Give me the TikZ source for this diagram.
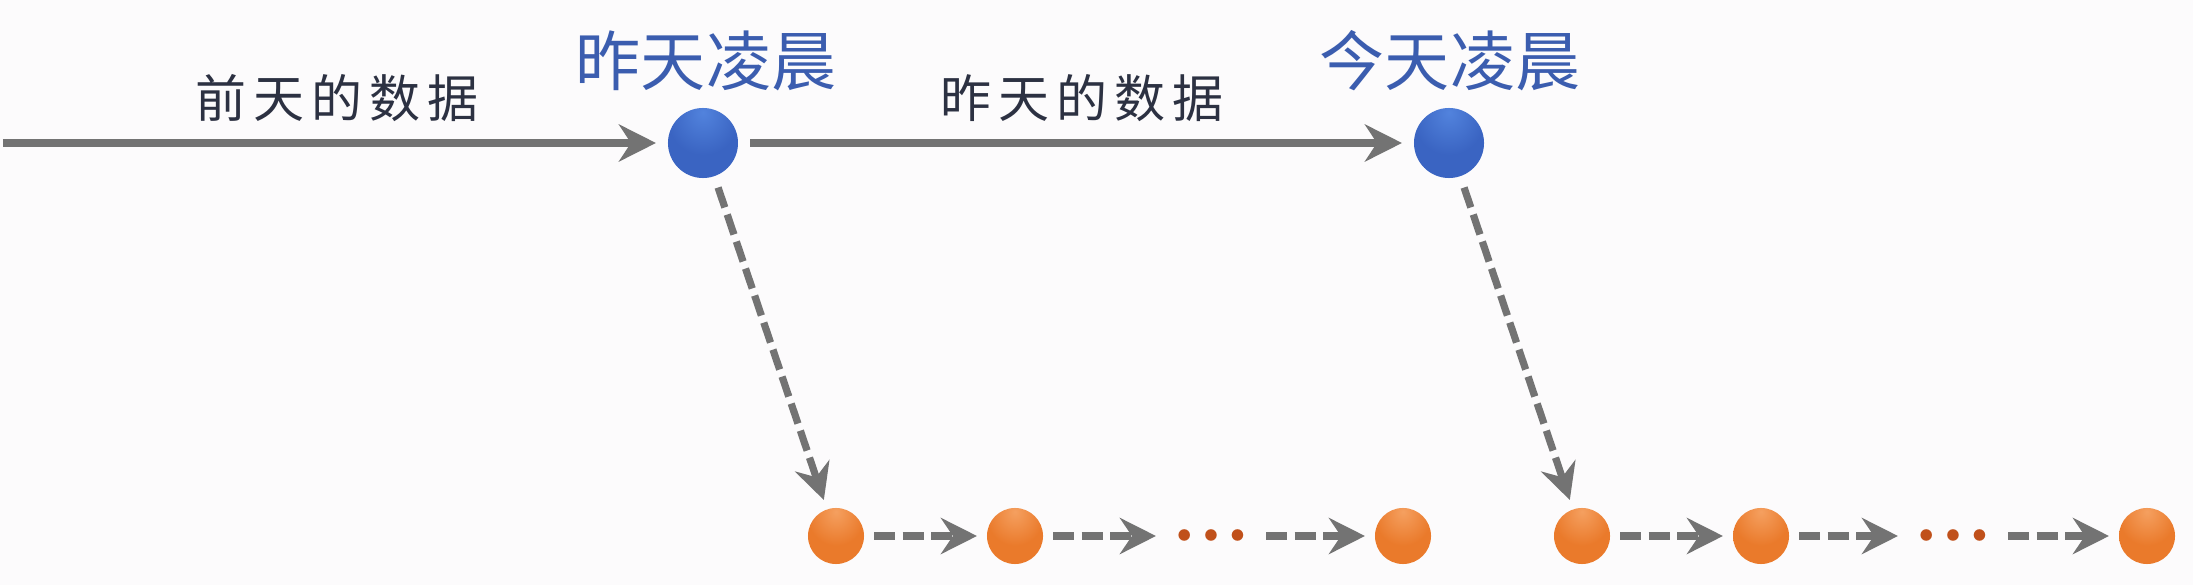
\documentclass[tikz,border=0pt]{standalone}
\usepackage{fontspec}
\newfontfamily\cjk[LetterSpace=14]{Noto Sans CJK SC}
\newfontfamily\cjkday{Noto Sans CJK SC}
\usetikzlibrary{arrows.meta}

% Ball shadings
\definecolor{blueLight}{HTML}{5283DD}
\definecolor{blueMid}{HTML}{3A64C2}
\definecolor{blueDark}{HTML}{2A4C9E}
\definecolor{orangeLight}{HTML}{F5A060}
\definecolor{orangeMid}{HTML}{EA7A2B}
\definecolor{orangeDark}{HTML}{C9601C}
\pgfdeclareradialshading{blueshade}{\pgfpoint{0bp}{22bp}}{%
    color(0bp)=(blueLight); color(25bp)=(blueMid); color(60bp)=(blueMid); color(68bp)=(blueDark); color(100bp)=(blueDark)}
\pgfdeclareradialshading{orangeshade}{\pgfpoint{0bp}{22bp}}{%
    color(0bp)=(orangeLight); color(25bp)=(orangeMid); color(60bp)=(orangeMid); color(68bp)=(orangeDark); color(100bp)=(orangeDark)}

\begin{document}
\begin{tikzpicture}[x=0.01cm, y=-0.01cm]
    % Define colors
    \definecolor{bgColour}{HTML}{FCFBFC}
    \definecolor{lineColour}{HTML}{737373}
    \definecolor{textColour}{HTML}{2C3142}
    \definecolor{dayColour}{HTML}{3B5DAF}
    \definecolor{dotColour}{HTML}{C0501A}

    % Define styles
    \tikzset{
        dayball/.style={circle, minimum size=0.70cm, inner sep=0pt, outer sep=0.12cm, shading=blueshade},
        runball/.style={circle, minimum size=0.56cm, inner sep=0pt, outer sep=0.1cm, shading=orangeshade},
        rundots/.style={minimum width=0.9cm, inner sep=0pt, outer sep=0.1cm, text=dotColour, font=\fontsize{8}{10}\selectfont},
        dataline/.style={draw=lineColour, line width=0.08cm, -{Stealth[length=0.37cm, width=0.37cm, inset=0.12cm]}},
        runline/.style={draw=lineColour, line width=0.072cm, dash pattern=on 0.21cm off 0.075cm, -{Stealth[length=0.36cm, width=0.36cm, inset=0.12cm]}},
        datalabel/.style={text=textColour, font=\cjk\fontsize{14.5}{16}\selectfont},
        daylabel/.style={text=dayColour, font=\cjkday\fontsize{18.5}{21}\selectfont}
    }

    % Background and size
    \fill[bgColour] (0,0) rectangle (2193,585);
    \useasboundingbox (0,0) rectangle (2193,585);

    % Days
    \coordinate (start) at (3,143);
    \node[dayball] (yesterday) at (703,143) {};
    \node[dayball] (today) at (1449,143) {};
    \node[daylabel] (yesterdayLabel) at (706,61) {昨天凌晨};
    \node[daylabel] (todayLabel) at (1450,61) {今天凌晨};

    % Data arrows
    \draw[dataline] (start) -- (yesterday);
    \draw[dataline] (yesterday) -- (today);
    \node[datalabel] (prevData) at (337,98) {前天的数据};
    \node[datalabel] (lastData) at (1082,98) {昨天的数据};

    % Runs after yesterday
    \node[runball] (runA1) at (836,536) {};
    \node[runball] (runA2) at (1015,536) {};
    \node[rundots] (dotsA) at (1211,536) {$\bullet\,\bullet\,\bullet$};
    \node[runball] (runA3) at (1403,536) {};
    \draw[runline] (yesterday) -- (runA1);
    \draw[runline] (runA1) -- (runA2);
    \draw[runline] (runA2) -- (dotsA);
    \draw[runline] (dotsA) -- (runA3);

    % Runs after today
    \node[runball] (runB1) at (1582,536) {};
    \node[runball] (runB2) at (1761,536) {};
    \node[rundots] (dotsB) at (1953,536) {$\bullet\,\bullet\,\bullet$};
    \node[runball] (runB3) at (2147,536) {};
    \draw[runline] (today) -- (runB1);
    \draw[runline] (runB1) -- (runB2);
    \draw[runline] (runB2) -- (dotsB);
    \draw[runline] (dotsB) -- (runB3);

\end{tikzpicture}
\end{document}
